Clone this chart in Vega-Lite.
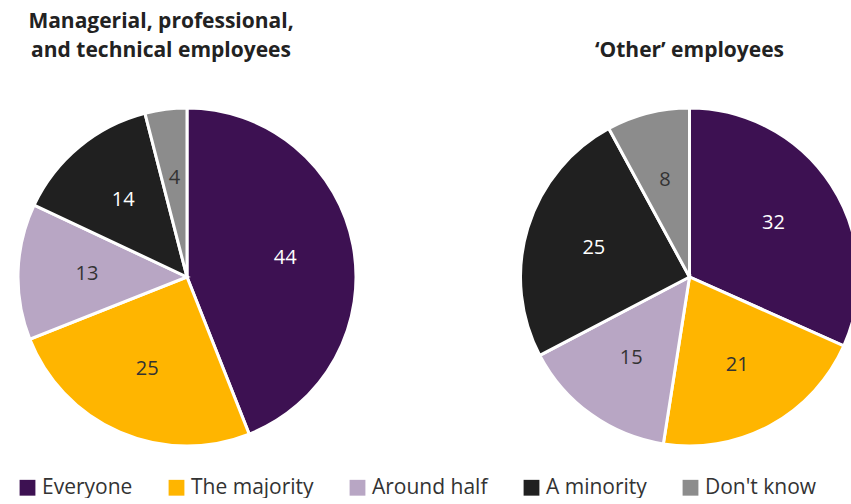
{
  "$schema": "https://vega.github.io/schema/vega-lite/v6.json",
  "background": "white",
  "padding": {"left": 12, "top": 11, "right": 0, "bottom": 0},
  "bounds": "flush",
  "datasets": {
    "all": [
      {"group": "mgr", "category": "Everyone", "value": 44, "k": 1},
      {"group": "mgr", "category": "The majority", "value": 25, "k": 2},
      {"group": "mgr", "category": "Around half", "value": 13, "k": 3},
      {"group": "mgr", "category": "A minority", "value": 14, "k": 4},
      {"group": "mgr", "category": "Don't know", "value": 4, "k": 5},
      {"group": "other", "category": "Everyone", "value": 32, "k": 1},
      {"group": "other", "category": "The majority", "value": 21, "k": 2},
      {"group": "other", "category": "Around half", "value": 15, "k": 3},
      {"group": "other", "category": "A minority", "value": 25, "k": 4},
      {"group": "other", "category": "Don't know", "value": 8, "k": 5}
    ]
  },
  "spacing": 168,
  "hconcat": [
    {
      "title": {"text": ["Managerial, professional,", "and technical employees"], "dx": -26, "offset": 41},
      "width": 340,
      "height": 340,
      "data": {"name": "all"},
      "transform": [{"filter": "datum.group === 'mgr'"}],
      "encoding": {
        "theta": {"field": "value", "type": "quantitative", "stack": true},
        "order": {"field": "k", "type": "quantitative"}
      },
      "layer": [
        {
          "mark": {"type": "arc", "outerRadius": 169, "stroke": "white", "strokeWidth": 3},
          "encoding": {
            "color": {"field": "category", "type": "nominal", "title": null,
              "scale": {"domain": ["Everyone", "The majority", "Around half", "A minority", "Don't know"],
                        "range": ["#3d1152", "#ffb500", "#b8a6c4", "#202020", "#8c8c8c"]}}
          }
        },
        {
          "mark": {"type": "text", "radius": 100, "fontSize": 20, "font": "Open Sans"},
          "encoding": {
            "text": {"field": "value", "type": "quantitative"},
            "color": {"condition": {"test": "datum.category === 'Everyone' || datum.category === 'A minority'", "value": "#ffffff"}, "value": "#333333"}
          }
        }
      ]
    },
    {
      "title": {"text": "‘Other’ employees", "offset": 41},
      "width": 329,
      "height": 340,
      "data": {"name": "all"},
      "transform": [{"filter": "datum.group === 'other'"}],
      "encoding": {
        "theta": {"field": "value", "type": "quantitative", "stack": true},
        "order": {"field": "k", "type": "quantitative"}
      },
      "layer": [
        {
          "mark": {"type": "arc", "outerRadius": 169, "stroke": "white", "strokeWidth": 3},
          "encoding": {
            "color": {"field": "category", "type": "nominal", "title": null,
              "scale": {"domain": ["Everyone", "The majority", "Around half", "A minority", "Don't know"],
                        "range": ["#3d1152", "#ffb500", "#b8a6c4", "#202020", "#8c8c8c"]}}
          }
        },
        {
          "mark": {"type": "text", "radius": 100, "fontSize": 20, "font": "Open Sans"},
          "encoding": {
            "text": {"field": "value", "type": "quantitative"},
            "color": {"condition": {"test": "datum.category === 'Everyone' || datum.category === 'A minority'", "value": "#ffffff"}, "value": "#333333"}
          }
        }
      ]
    }
  ],
  "config": {
    "view": {"stroke": null},
    "title": {"font": "Open Sans", "fontSize": 21, "fontWeight": "bold", "color": "#222222", "anchor": "middle", "lineHeight": 29},
    "legend": {
      "orient": "bottom",
      "direction": "horizontal",
      "symbolType": "square",
      "symbolSize": 250,
      "symbolStrokeWidth": 0,
      "symbolOpacity": 1,
      "labelFont": "Open Sans",
      "labelFontSize": 21,
      "labelColor": "#333333",
      "labelLimit": 300,
      "columnPadding": 33,
      "offset": 25,
      "padding": 0
    }
  }
}
